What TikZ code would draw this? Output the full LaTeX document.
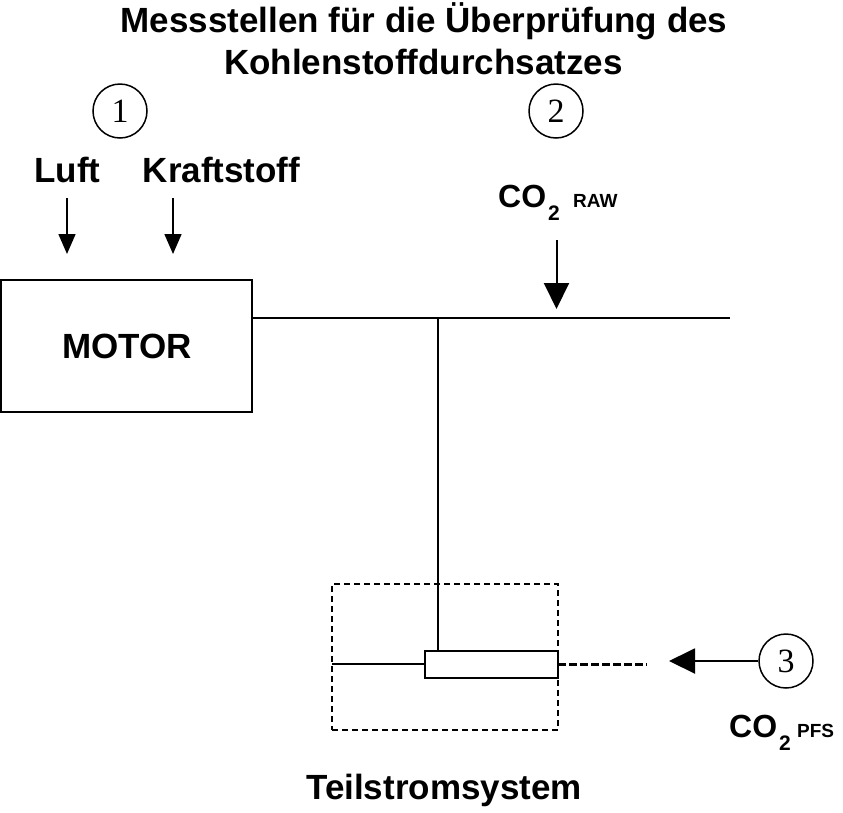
\documentclass[tikz,border=0pt]{standalone}
\usepackage{fontspec}
\setmainfont{Liberation Sans}
\newfontfamily\numfont{Liberation Serif}
\usetikzlibrary{arrows.meta}
\begin{document}
\begin{tikzpicture}[x=1pt,y=-1pt,
  lbl/.style={font=\fontsize{35}{40}\selectfont\bfseries, inner sep=0pt, anchor=base},
  numc/.style={circle, draw, line width=1.5pt, minimum size=54pt, inner sep=0pt, font=\numfont\fontsize{34}{34}\selectfont},
  ln/.style={line width=2pt},
  arr/.style={line width=1.5pt, -{Triangle[length=20pt,width=17pt]}},
  bigarr/.style={line width=2pt, -{Triangle[length=26pt,width=25pt]}},
  boxn/.style={draw, line width=2pt, inner sep=0pt},
  dbox/.style={draw, line width=1.8pt, dash pattern=on 6pt off 4pt, inner sep=0pt},
  thickdash/.style={line width=3pt, dash pattern=on 8pt off 3pt},
  co/.style={font=\fontsize{32}{36}\selectfont\bfseries, inner sep=0pt, anchor=base west},
  sub/.style={font=\fontsize{21}{24}\selectfont\bfseries, inner sep=0pt, anchor=base west},
  tag/.style={font=\fontsize{19}{22}\selectfont\bfseries, inner sep=0pt, anchor=base west},
]
\useasboundingbox (0,0) rectangle (843,812);

% title
\node[lbl] (t1) at (424,32.5) {Messstellen für die Überprüfung des};
\node[lbl] (t2) at (423.5,74) {Kohlenstoffdurchsatzes};

% circled numbers
\node[numc] (c1) at (120,111) {1};
\node[numc] (c2) at (556,111) {2};
\node[numc] (c3) at (786,661) {3};

% inputs
\node[lbl] (luft) at (67.5,182) {Luft};
\node[lbl] (kraft) at (221.5,182) {Kraftstoff};

% motor
\node[boxn, minimum width=251pt, minimum height=132pt] (motor) at (126.5,346) {};
\node[lbl, anchor=center] (motortxt) at (127,346.5) {MOTOR};

\coordinate (la1) at (67,198);
\coordinate (la2) at (67,254);
\coordinate (ka1) at (173,198);
\coordinate (ka2) at (173,254);
\draw[arr] (la1) -- (la2);
\draw[arr] (ka1) -- (ka2);

% exhaust pipe
\coordinate (p0) at (252,318);
\coordinate (j1) at (437.5,318);
\coordinate (p1) at (730,318);
\draw[ln] (p0) -- (p1);

% CO2 raw label and arrow
\node[co] (co2a) at (498,207) {CO};
\node[sub] (co2asub) at (548,220) {2};
\node[tag] (raw) at (573,207) {RAW};
\coordinate (ra1) at (556.5,240);
\coordinate (ra2) at (556.5,309);
\draw[bigarr] (ra1) -- (ra2);

% partial flow system
\node[dbox, minimum width=226pt, minimum height=146pt] (pfs) at (445,657) {};
\node[boxn, minimum width=133pt, minimum height=27pt] (tube) at (491.5,664.5) {};
\draw[ln] (j1) -- (j1 |- tube.north);
\coordinate (l0) at (332,664);
\draw[ln] (l0) -- (tube.west |- l0);
\coordinate (d1) at (558,664);
\coordinate (d2) at (647,664);
\draw[thickdash] (d1) -- (d2);
\coordinate (a3) at (669,661);
\draw[bigarr] (c3.west) -- (a3);

% CO2 PFS label
\node[co] (co2b) at (729,737) {CO};
\node[sub] (co2bsub) at (779,750) {2};
\node[tag] (pfstag) at (797,737) {PFS};

% bottom label
\node[lbl] (teil) at (444,799) {Teilstromsystem};
\end{tikzpicture}
\end{document}
